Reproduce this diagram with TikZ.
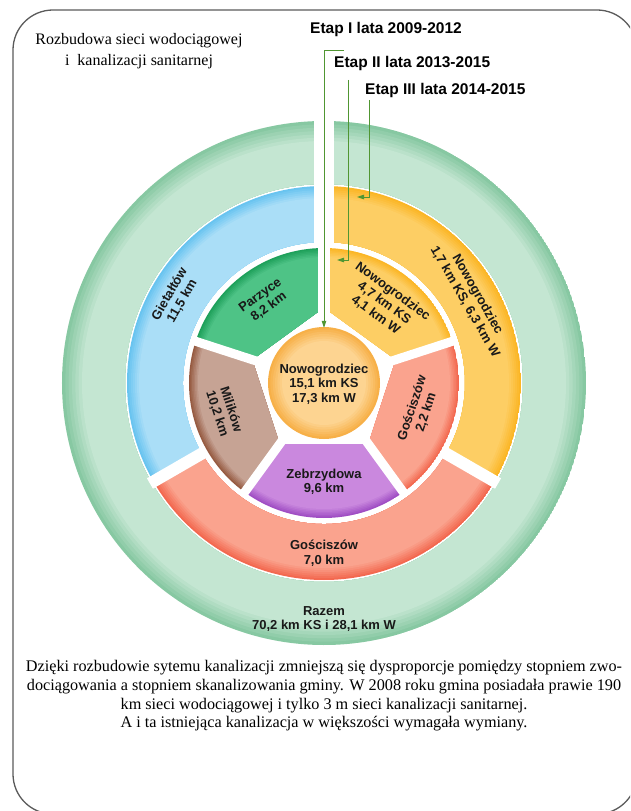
\documentclass[tikz,border=0pt]{standalone}
\usepackage{fontspec}
\setmainfont{Liberation Serif}
\newfontfamily\arialf{Liberation Sans}
\usetikzlibrary{arrows.meta}
\definecolor{gD}{RGB}{135,200,162}
\definecolor{gL}{RGB}{196,230,210}
\definecolor{bD}{RGB}{105,196,240}
\definecolor{bL}{RGB}{170,222,247}
\definecolor{yD}{RGB}{251,182,38}
\definecolor{yL}{RGB}{253,206,100}
\definecolor{rD}{RGB}{243,105,80}
\definecolor{rL}{RGB}{250,163,142}
\definecolor{igD}{RGB}{30,160,90}
\definecolor{igL}{RGB}{78,195,134}
\definecolor{pD}{RGB}{160,78,196}
\definecolor{pL}{RGB}{202,136,222}
\definecolor{brD}{RGB}{150,90,65}
\definecolor{brL}{RGB}{198,163,148}
\definecolor{cD}{RGB}{247,176,72}
\definecolor{cL}{RGB}{253,212,145}
\definecolor{lineG}{RGB}{80,150,50}
\definecolor{frameC}{RGB}{90,90,90}
\newcommand{\gradfill}[4]{%
  \foreach \i in {0,...,6}{%
    \pgfmathsetmacro\rr{#1-\i*#2/6}%
    \pgfmathtruncatemacro\pp{100-\i*100/6}%
    \fill[#3!\pp!#4] (0,0) circle (\rr);}}
\newcommand{\annseg}[7]{%
  \begin{scope}
    \clip (#1:#3) arc[start angle=#1,end angle=#2,radius=#3] -- (#2:#4) arc[start angle=#2,end angle=#1,radius=#4] -- cycle;
    \gradfill{#3}{#5}{#6}{#7}
  \end{scope}}
\newcommand{\inseg}[5]{%
  \begin{scope}
    \clip (#1:135) arc[start angle=#1,end angle=#2,radius=135] -- (#2:75.4) -- (#1:75.4) -- cycle;
    \gradfill{135}{#3}{#4}{#5}
  \end{scope}}
\tikzset{
  seglabel/.style={font=\arialf\bfseries\fontsize{13}{14.5}\selectfont, align=center, text=black!90, inner sep=0pt},
  etaplabel/.style={font=\arialf\bfseries\fontsize{15.5}{18}\selectfont, anchor=base west, inner sep=0pt},
  etapline/.style={draw=lineG, line width=0.9pt, -{Triangle[length=7pt,width=4.5pt]}}
}
\begin{document}
\begin{tikzpicture}[x=1pt,y=1pt]
\useasboundingbox (-324,-428) rectangle (306,383);
\clip (-324,-428) rectangle (306,383);
% frame
\draw[frameC, line width=1.3pt, rounded corners=40pt] (-311,373) rectangle (313,-431);
% outer green ring
\annseg{-270}{90}{262}{199}{20}{gD}{gL}
% middle ring
\annseg{90}{210}{197}{141}{12}{bD}{bL}
\annseg{210}{330}{197}{141}{12}{rD}{rL}
\annseg{-30}{90}{197}{141}{12}{yD}{yL}
% inner ring
\inseg{90}{162}{9}{igD}{igL}
\inseg{162}{234}{9}{brD}{brL}
\inseg{234}{306}{9}{pD}{pL}
\inseg{306}{378}{9}{rD}{rL}
\inseg{18}{90}{9}{yD}{yL}
% gaps
\foreach \a in {18,-54,-126,162} \draw[white,line width=9pt] (0,0) -- (\a:140);
\foreach \a in {-30,-150} \draw[white,line width=12pt] (\a:137) -- (\a:201);
\fill[white] (-10,136) rectangle (10,268);
\fill[white] (-6,0) rectangle (6,140);
% centre
\fill[white] (0,0) circle (60);
\gradfill{56}{14}{cD}{cL}
\node[seglabel, circle, minimum size=112pt] (ctr) at (0,-1) {Nowogrodziec\\15,1 km KS\\17,3 km W};
% labels
\node[seglabel, rotate=60] (giet) at (150:171) {Gietałtów\\11,5 km};
\node[seglabel, rotate=-60] (nowM) at (30:170) {Nowogrodziec\\1,7 km KS, 6,3 km W};
\node[seglabel] (goscM) at (-90:170) {Gościszów\\7,0 km};
\node[seglabel] (razem) at (-90:236) {Razem\\70,2 km KS i 28,1 km W};
\node[seglabel, rotate=36] (parz) at (126:101) {Parzyce\\8,2 km};
\node[seglabel, rotate=-36] (nowI) at (53:100) {Nowogrodziec\\4,7 km KS\\4,1 km W};
\node[seglabel, rotate=72] (goscI) at (-16:99) {Gościszów\\2,2 km};
\node[seglabel] (zebr) at (-90:99) {Zebrzydowa\\9,6 km};
\node[seglabel, rotate=-72] (mil) at (196:104) {Milików\\10,2 km};
% title
\node[font=\fontsize{16}{21}\selectfont, align=center, inner sep=0pt] (title) at (-185,331.5) {Rozbudowa sieci wodociągowej\\i\ \ kanalizacji sanitarnej};
% etap labels
\node[etaplabel] (etapI) at (-14,349) {Etap I lata 2009-2012};
\node[etaplabel] (etapII) at (10,315) {Etap II lata 2013-2015};
\node[etaplabel] (etapIII) at (41,288) {Etap III lata 2014-2015};
\coordinate (s1) at (20,333);
\coordinate (s2) at (24,303);
\coordinate (t2) at (13,123);
\coordinate (s3) at (45,283);
\coordinate (t3) at (33,186);
\draw[etapline] (s1) -| (ctr.north);
\draw[etapline] (s2) |- (t2);
\draw[etapline] (s3) |- (t3);
% bottom text
\node[font=\fontsize{16.2}{18.7}\selectfont, align=center, inner sep=0pt] (txt) at (0,-313) {Dzięki rozbudowie sytemu kanalizacji zmniejszą się dysproporcje pomiędzy stopniem zwo-\\dociągowania a stopniem skanalizowania gminy. W 2008 roku gmina posiadała prawie 190\\km sieci wodociągowej i tylko 3 m sieci kanalizacji sanitarnej.\\A i ta istniejąca kanalizacja w większości wymagała wymiany.};
\end{tikzpicture}
\end{document}
